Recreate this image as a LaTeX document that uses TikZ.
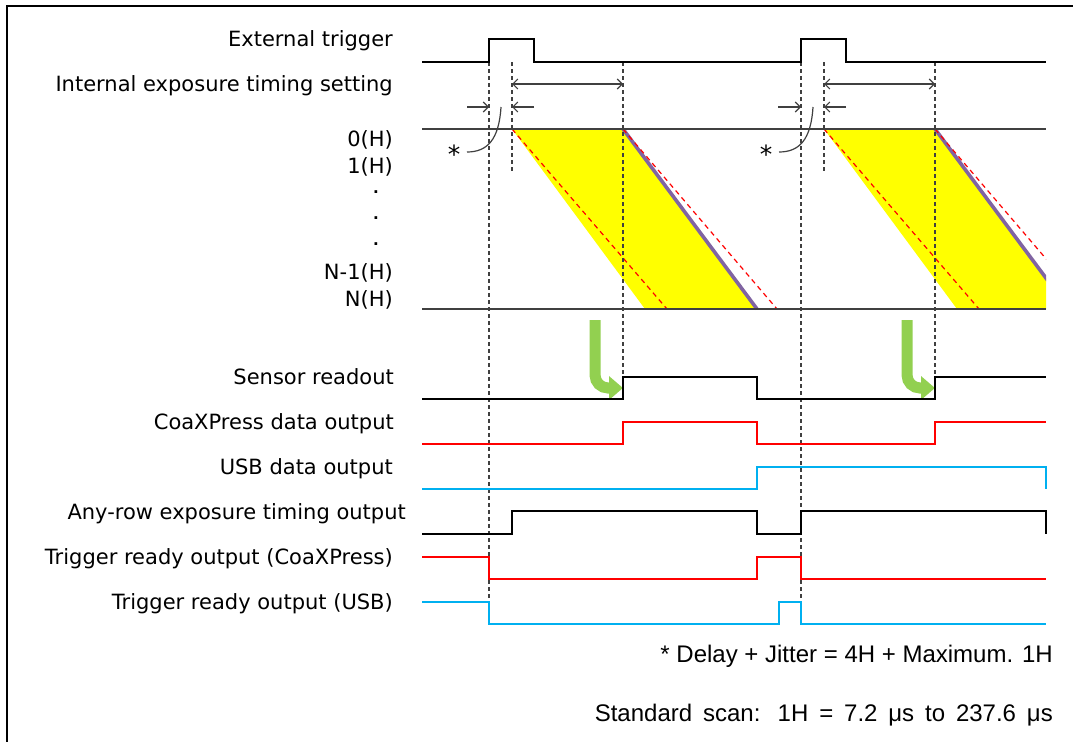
\documentclass[tikz,border=0pt]{standalone}
\usepackage{fontspec}
\setmainfont{DejaVu Sans}
\newfontfamily\notefont{Liberation Sans}
\usetikzlibrary{arrows.meta}
\definecolor{sred}{RGB}{255,0,0}
\definecolor{sblue}{RGB}{0,176,240}
\definecolor{sgreen}{RGB}{146,208,80}
\definecolor{spurple}{RGB}{128,100,162}
\definecolor{syellow}{RGB}{255,255,0}
\definecolor{dgray}{RGB}{64,64,64}
\tikzset{
  lbl/.style={anchor=base east, inner sep=0pt, font=\fontsize{21}{25}\selectfont},
  vdot/.style={inner sep=0pt, font=\bfseries\fontsize{15}{18}\selectfont},
  ast/.style={inner sep=0pt, font=\fontsize{25}{28}\selectfont},
  note/.style={anchor=base east, inner sep=0pt, font=\notefont\fontsize{24}{28}\selectfont},
  sig/.style={line width=2.2pt, black},
  sigr/.style={line width=2pt, sred},
  sigb/.style={line width=2pt, sblue},
  hline/.style={line width=1.4pt, dgray},
  vdash/.style={dgray, line width=1.1pt, dash pattern=on 4pt off 3pt},
  rdash/.style={sred, line width=1.2pt, dash pattern=on 5pt off 4pt},
  rdline/.style={spurple, line width=3.6pt},
  dim/.style={{Straight Barb[length=5pt,width=10pt]}-{Straight Barb[length=5pt,width=10pt]}, line width=1.1pt, dgray},
  jit/.style={-{Straight Barb[length=5pt,width=10pt]}, line width=1.1pt, dgray},
  turn/.style={-{Triangle[length=14pt,width=23pt]}, sgreen, line width=11pt, rounded corners=13pt},
  timing/.style={x=1pt, y=-1pt}
}
\begin{document}
\begin{tikzpicture}[timing]
\useasboundingbox (0,0) rectangle (1073,742);
% frame
\draw[line width=2.4pt] (1073,6) -- (7,6) -- (7,742);

% row labels
\node[lbl] (ext) at (393,46) {External trigger};
\node[lbl] (inexp) at (393,91) {Internal exposure timing setting};
\node[lbl] (h0) at (393,146) {0(H)};
\node[lbl] (h1) at (393,173) {1(H)};
\node[vdot] (dt1) at (376,192) {.};
\node[vdot] (dt2) at (376,218) {.};
\node[vdot] (dt3) at (376,244) {.};
\node[lbl] (hn1) at (393,279) {N-1(H)};
\node[lbl] (hn) at (393,306) {N(H)};
\node[lbl] (rdout) at (394,384) {Sensor readout};
\node[lbl] (cxp) at (394,429) {CoaXPress data output};
\node[lbl] (usb) at (393,474) {USB data output};
\node[lbl] (anyrow) at (406,519) {Any-row exposure timing output};
\node[lbl] (trcxp) at (393,564) {Trigger ready output (CoaXPress)};
\node[lbl] (trusb) at (393,609) {Trigger ready output (USB)};

% exposure bands
\begin{scope}
  \clip (422,120) rectangle (1046,320);
  \fill[syellow] (512,129) -- (623,129) -- (757,309) -- (645,309) -- cycle;
  \fill[syellow] (824,129) -- (935,129) -- (1069,309) -- (957,309) -- cycle;
  \draw[rdline] (623,129) -- (757,309);
  \draw[rdline] (935,129) -- (1069,309);
  \draw[rdash] (512,129) -- (667,309);
  \draw[rdash] (623,129) -- (777,309);
  \draw[rdash] (824,129) -- (979,309);
  \draw[rdash] (935,129) -- (1089,309);
\end{scope}
\draw[hline] (422,129) -- (1046,129);
\draw[hline] (422,309) -- (1046,309);

% guides
\draw[vdash] (489,62) -- (489,602);
\draw[vdash] (512,62) -- (512,172);
\draw[vdash] (623,62) -- (623,377);
\draw[vdash] (801,62) -- (801,602);
\draw[vdash] (824,62) -- (824,172);
\draw[vdash] (935,62) -- (935,377);

% exposure time and delay marks
\coordinate (ex1a) at (512,84);
\coordinate (ex1b) at (623,84);
\coordinate (ex2a) at (824,84);
\coordinate (ex2b) at (935,84);
\draw[dim] (ex1a) -- (ex1b);
\draw[dim] (ex2a) -- (ex2b);
\coordinate (jl1) at (467,107);
\coordinate (jl1e) at (489,107);
\coordinate (jr1) at (534,107);
\coordinate (jr1e) at (512,107);
\coordinate (jl2) at (778,107);
\coordinate (jl2e) at (801,107);
\coordinate (jr2) at (846,107);
\coordinate (jr2e) at (824,107);
\draw[jit] (jl1) -- (jl1e);
\draw[jit] (jr1) -- (jr1e);
\draw[jit] (jl2) -- (jl2e);
\draw[jit] (jr2) -- (jr2e);
\node[ast] (ast1) at (454,154) {*};
\node[ast] (ast2) at (766,154) {*};
\draw[line width=1.2pt, dgray] (501,107) .. controls (499,140) and (487,152) .. (467,152);
\draw[line width=1.2pt, dgray] (813,107) .. controls (811,140) and (799,152) .. (779,152);

% readout start
\draw[turn] (595,320) |- (623,388);
\draw[turn] (907,320) |- (935,388);

% signals
\draw[sig] (422,62) -| (489,39) -| (534,62) -| (801,39) -| (846,62) -- (1046,62);
\draw[sig] (422,399) -| (623,377) -| (757,399) -| (935,377) -- (1046,377);
\draw[sigr] (422,444) -| (623,422) -| (757,444) -| (935,422) -- (1046,422);
\draw[sigb] (422,489) -| (757,467) -| (1046,489);
\draw[sig] (422,534) -| (512,511) -| (757,534) -| (801,511) -| (1046,534);
\draw[sigr] (422,557) -| (489,579) -| (757,557) -| (801,579) -- (1046,579);
\draw[sigb] (422,602) -| (489,624) -| (779,602) -| (801,624) -- (1046,624);

% notes
\node[note] (n1) at (1053,662) {* Delay + Jitter = 4H + Maximum. 1H};
\node[note] (n2) at (1053,721) {\makebox[458pt][s]{Standard scan: 1H = 7.2 μs to 237.6 μs}};
\end{tikzpicture}
\end{document}
